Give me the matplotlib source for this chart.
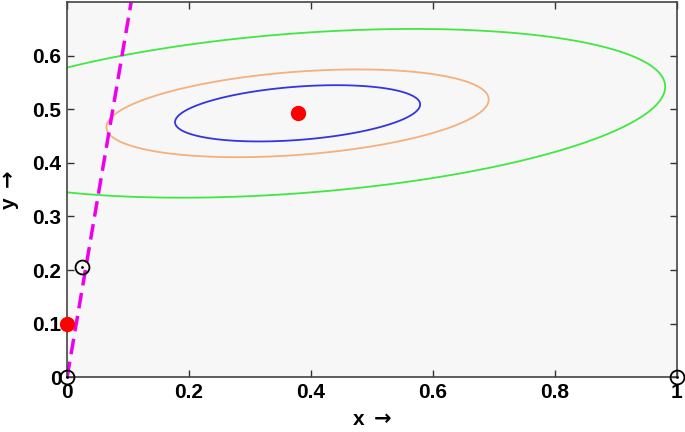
import numpy as np
import matplotlib
matplotlib.use("Agg")
import matplotlib.pyplot as plt

plt.rcParams['font.family'] = ['Liberation Sans', 'DejaVu Sans']
plt.rcParams['font.weight'] = 'bold'

# Gaussian fitted to the data: mean and covariance
mean = [0.378, 0.4925]
cov = [[0.0404, 0.00332],
       [0.00332, 0.002756]]
# contour levels (Mahalanobis distance) and their colours
levels = [1.0, 1.56, 3.0]
level_colors = ['#3434e0', '#f5b07c', '#40e840']

# points
mean_pts_x = [0.378, 0.0]
mean_pts_y = [0.4925, 0.1]
open_x = [0.0, 0.025, 1.0]
open_y = [0.0, 0.205, 0.0]

# dashed magenta line
line_x = [0.0, 0.105]
line_y = [0.0, 0.70]

fig = plt.figure(figsize=(6.85, 4.32), dpi=100)
ax = fig.add_axes([0.098, 0.127, 0.890, 0.868])
ax.set_facecolor('#f7f7f7')

# Mahalanobis distance grid for the contours
xs = np.linspace(-0.1, 1.1, 600)
ys = np.linspace(-0.1, 0.8, 600)
X, Y = np.meshgrid(xs, ys)
inv = np.linalg.inv(np.array(cov))
dx = X - mean[0]
dy = Y - mean[1]
D = np.sqrt(inv[0, 0] * dx**2 + 2 * inv[0, 1] * dx * dy + inv[1, 1] * dy**2)
ax.contour(X, Y, D, levels=levels, colors=level_colors, linewidths=1.3)

ax.plot(line_x, line_y, color='#ee00ee', linestyle=(0, (4.5, 2.2)), linewidth=2.5)

ax.plot(mean_pts_x, mean_pts_y, 'o', color='red', markersize=10, clip_on=False, zorder=5)
ax.plot(open_x, open_y, 'o', markerfacecolor='none', markeredgecolor='black',
        markersize=10, markeredgewidth=1.3, clip_on=False, zorder=5)
ax.plot(open_x, open_y, '.', color='black', markersize=2, clip_on=False, zorder=5)

ax.set_xlim(0, 1)
ax.set_ylim(0, 0.7)
ax.set_xticks([0, 0.2, 0.4, 0.6, 0.8, 1])
ax.set_xticklabels(['0', '0.2', '0.4', '0.6', '0.8', '1'])
ax.set_yticks([0, 0.1, 0.2, 0.3, 0.4, 0.5, 0.6])
ax.set_yticklabels(['0', '0.1', '0.2', '0.3', '0.4', '0.5', '0.6'])
ax.tick_params(direction='in', length=5, width=1, top=True, right=True,
               labelsize=15, pad=4, colors='#333333', labelcolor='black')
for s in ax.spines.values():
    s.set_color('#444444')
    s.set_linewidth(1.2)

ax.set_xlabel(r'x $\rightarrow$', fontsize=15, fontweight='bold', labelpad=6)
ax.set_ylabel(r'y $\rightarrow$', fontsize=15, fontweight='bold', labelpad=8)

fig.savefig('out.png', dpi=100)
